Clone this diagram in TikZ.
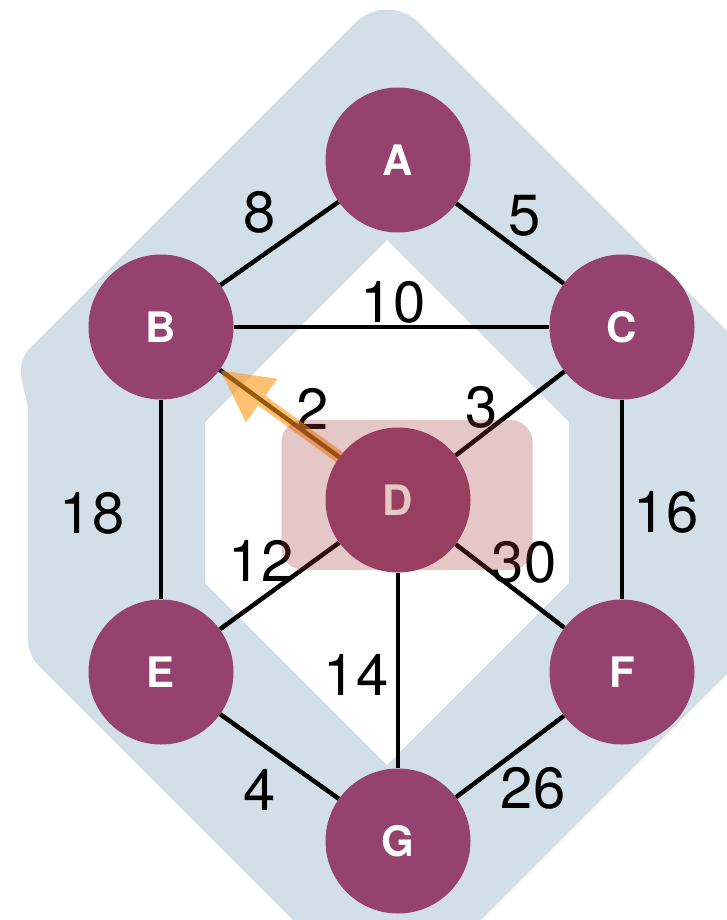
\documentclass[tikz,border=0pt]{standalone}
\usepackage{fontspec}
\setmainfont{TeX Gyre Heros}
\usetikzlibrary{arrows.meta}

\definecolor{bandblue}{RGB}{210,223,232}
\definecolor{vertexred}{RGB}{150,66,110}
\definecolor{pathorange}{RGB}{255,150,20}
\definecolor{focusred}{RGB}{160,54,54}

\begin{document}
\begin{tikzpicture}[x=1pt, y=-1pt, >=Stealth]
        % Style definitions
        \tikzstyle{vertex} = [circle, fill=vertexred, minimum size=145pt, inner sep=0pt, text=white, font=\fontsize{42}{48}\selectfont\bfseries]
        \tikzstyle{edge} = [line width=4.5pt, black]
        \tikzstyle{weight} = [inner sep=0pt, font=\fontsize{58}{62}\selectfont]

        \useasboundingbox (0,0) rectangle (727,920);

        % Background band
        \begin{scope}
            \clip (0,0) rectangle (727,920);
            \fill[bandblue, even odd rule]
                (28,500) [rounded corners=12pt] -- (28,400) -- (21,384) -- (21,357) [rounded corners=45pt] -- (387,-9) [rounded corners=14pt] -- (745,349) -- (745,656) -- (387,1014) -- (28,655) -- cycle
                [sharp corners] (205,500) -- (205,422) -- (387,240) -- (569,422) -- (569,583) -- (387,765) -- (205,583) -- cycle;
        \end{scope}

        % Graph Nodes
        \node [vertex] (a) at (398,160) {A};
        \node [vertex] (b) at (161,327) {B};
        \node [vertex] (c) at (622,327) {C};
        \node [vertex] (d) at (398,500) {D};
        \node [vertex] (e) at (161,672) {E};
        \node [vertex] (f) at (622,672) {F};
        \node [vertex] (g) at (398,841) {G};

        % Edges
        \draw [edge] (a) -- (b);
        \draw [edge] (a) -- (c);
        \draw [edge] (b) -- (c);
        \draw [edge] (b) -- (d);
        \draw [edge] (c) -- (d);
        \draw [edge] (b) -- (e);
        \draw [edge] (c) -- (f);
        \draw [edge] (d) -- (e);
        \draw [edge] (d) -- (f);
        \draw [edge] (d) -- (g);
        \draw [edge] (e) -- (g);
        \draw [edge] (f) -- (g);

        % Weights
        \node [weight] (wab) at (260,212) {8};
        \node [weight] (wac) at (525,216) {5};
        \node [weight] (wbc) at (393,302) {10};
        \node [weight] (wbd) at (313,409) {2};
        \node [weight] (wcd) at (482,407) {3};
        \node [weight] (wbe) at (92,513) {18};
        \node [weight] (wcf) at (666,512) {16};
        \node [weight] (wde) at (261,561) {12};
        \node [weight] (wdf) at (524,562) {30};
        \node [weight] (wdg) at (356,675) {14};
        \node [weight] (weg) at (260,790) {4};
        \node [weight] (wfg) at (533,788) {26};

        % Chosen step
        \begin{scope}[transparency group, opacity=0.6]
            \draw [pathorange, line width=12pt, -{Triangle[length=52pt, width=50pt]}] (d) -- (b);
        \end{scope}

        % Highlight of the current vertex
        \node [fill=focusred, fill opacity=0.28, rounded corners=22pt, minimum width=251pt, minimum height=150pt, inner sep=0pt] (focus) at (407,495) {};
    \end{tikzpicture}
\end{document}
